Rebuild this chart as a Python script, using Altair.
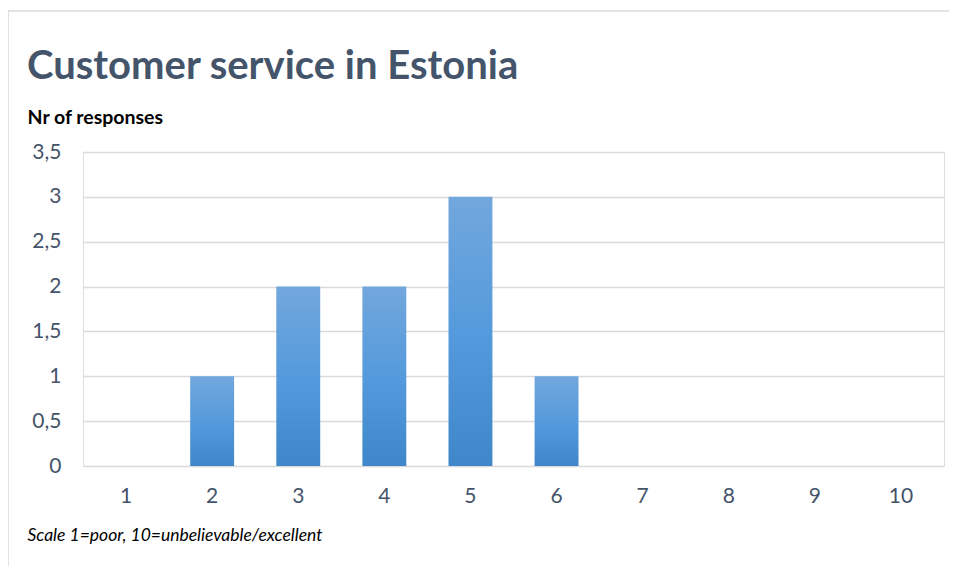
import altair as alt
import pandas as pd

scores = ["1", "2", "3", "4", "5", "6", "7", "8", "9", "10"]
counts = [0, 1, 2, 2, 3, 1, 0, 0, 0, 0]
y_ticks = [0, 0.5, 1, 1.5, 2, 2.5, 3, 3.5]

title_text = "Customer service in Estonia"
y_title = "Nr of responses"
footnote = "Scale 1=poor, 10=unbelievable/excellent"

FONT = "Lato"
TEXT_COLOR = "#44546A"
GRID = "#D9D9D9"

df = pd.DataFrame({"score": scores, "count": counts})
one = pd.DataFrame({"a": [0]})

gradient = alt.Gradient(
    gradient="linear",
    stops=[
        alt.GradientStop(color="#72A7DD", offset=0),
        alt.GradientStop(color="#559ADC", offset=0.5),
        alt.GradientStop(color="#3F87CA", offset=1),
    ],
    x1=0, x2=0, y1=0, y2=1,
)

frame_top = alt.Chart(one).mark_rule(stroke=GRID, strokeWidth=1.5).encode(
    x=alt.value(-75), x2=alt.value(900), y=alt.value(-141)
)
frame_left = alt.Chart(one).mark_rule(stroke=GRID, strokeWidth=1.5).encode(
    x=alt.value(-75), y=alt.value(-141), y2=alt.value(520)
)

bars = alt.Chart(df).mark_bar(color=gradient).encode(
    x=alt.X(
        "score:N",
        sort=scores,
        scale=alt.Scale(paddingInner=0.49, paddingOuter=0.245),
        axis=alt.Axis(
            title=footnote,
            titleFont=FONT, titleFontSize=17.5, titleFontStyle="italic", titleFontWeight="normal",
            titleColor="black", titleAngle=0, titleAlign="left", titleBaseline="alphabetic",
            titleX=-56, titleY=74,
            labelFont=FONT, labelFontSize=21, labelColor=TEXT_COLOR, labelAngle=0,
            labelPadding=19, domain=False, ticks=False, grid=False,
        ),
    ),
    y=alt.Y(
        "count:Q",
        scale=alt.Scale(domain=[0, 3.5], nice=False),
        axis=alt.Axis(
            title=y_title,
            titleFont=FONT, titleFontSize=19.5, titleFontWeight="bold", titleColor="black",
            titleAngle=0, titleAlign="left", titleBaseline="alphabetic",
            titleX=-56, titleY=-29,
            values=y_ticks,
            labelExpr="replace(toString(datum.value), '.', ',')",
            labelFont=FONT, labelFontSize=21, labelColor=TEXT_COLOR,
            labelPadding=22, domain=False, ticks=False,
            grid=True, gridColor=GRID, gridWidth=1.5,
        ),
    ),
)

title = alt.Chart(one).mark_text(
    align="left", baseline="alphabetic", font=FONT, fontSize=40, fontWeight="bold", color=TEXT_COLOR
).encode(x=alt.value(-56), y=alt.value(-73), text=alt.value(title_text))

chart = alt.layer(frame_top, frame_left, bars, title).properties(
    width=861, height=314,
    padding={"left": 75, "top": 144, "right": 5, "bottom": 100},
    autosize=alt.AutoSizeParams(type="none"),
).configure_view(stroke=None).configure(background="white")

chart.save("out.html", embed_options={"renderer": "svg", "actions": False})
